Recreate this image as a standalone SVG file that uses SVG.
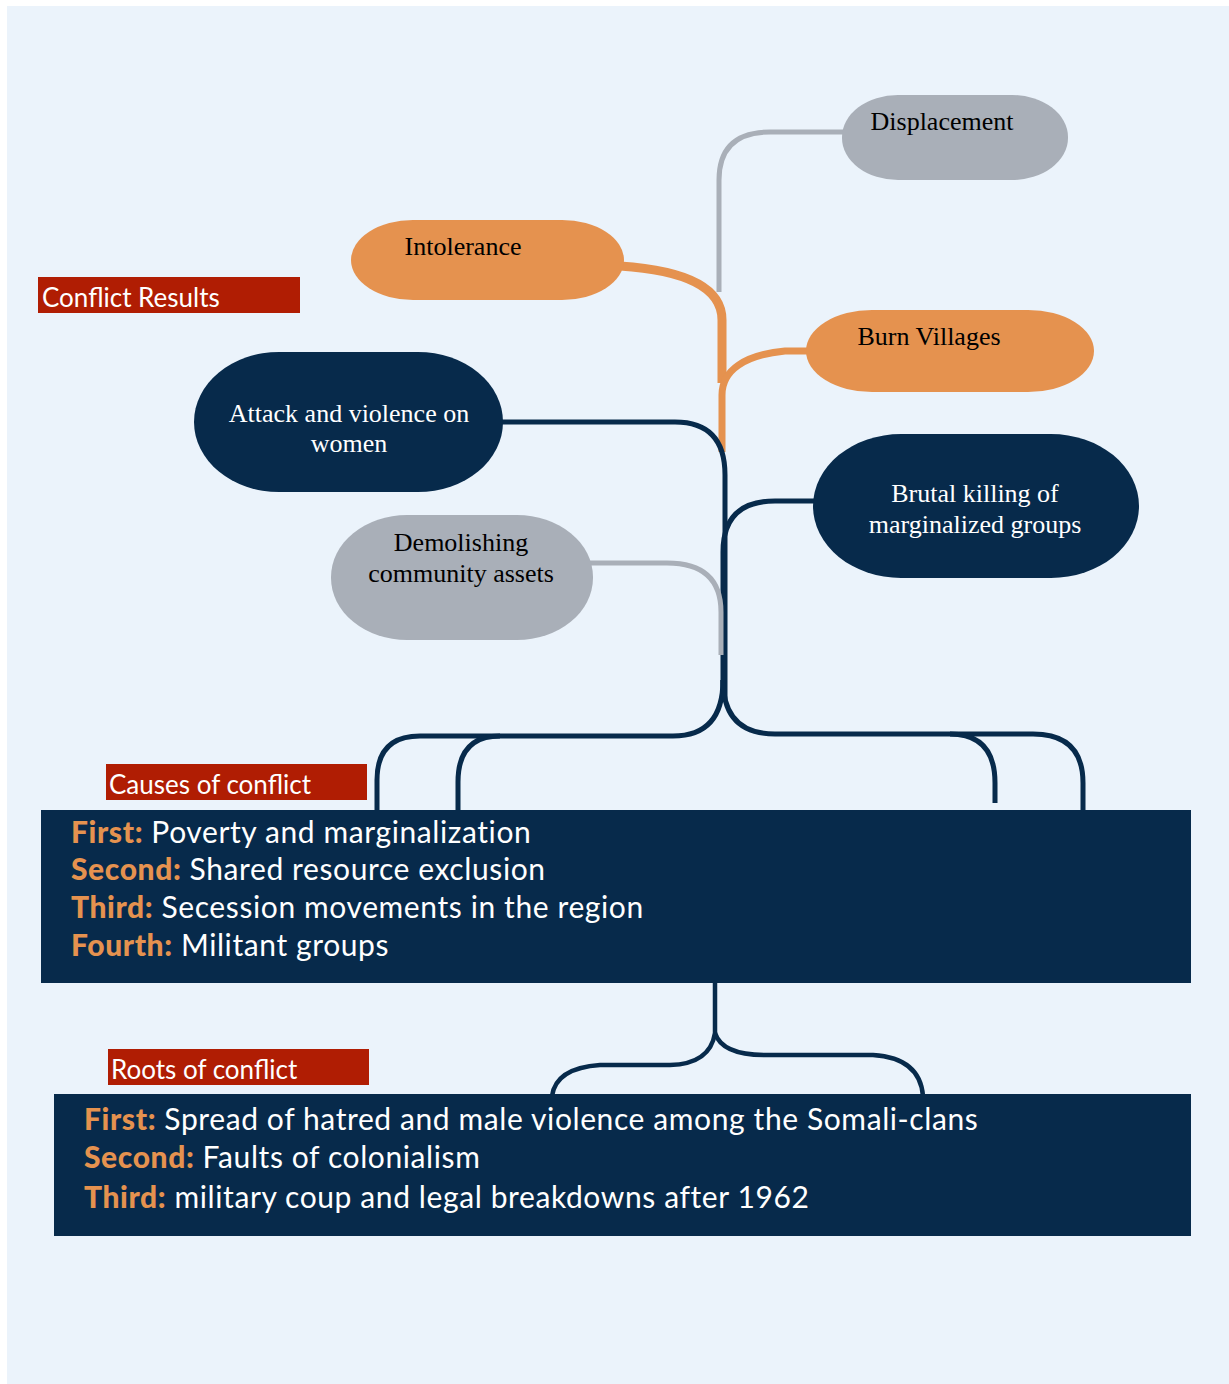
<svg xmlns="http://www.w3.org/2000/svg" width="1229" height="1384" viewBox="0 0 1229 1384">
  <style>
    .bg { fill: #EBF3FB; }
    .navy { fill: #072A4B; }
    .grey { fill: #A9AFB8; }
    .orange { fill: #E5924F; }
    .tag { fill: #B01D03; }
    .lnNavy { fill: none; stroke: #072A4B; stroke-width: 5; }
    .lnGrey { fill: none; stroke: #A9AFB8; stroke-width: 5; }
    .lnOrange { fill: none; stroke: #E5924F; stroke-width: 5; }
    .serif { font-family: "Liberation Serif", "Times New Roman", serif; font-size: 26px; text-anchor: middle; }
    .dark { fill: #000000; }
    .light { fill: #FFFFFF; }
    .sans { font-family: Lato, "Open Sans", "Liberation Sans", sans-serif; }
    .tagText { font-size: 26px; fill: #FFFFFF; }
    .list { font-size: 30px; letter-spacing: 0.6px; fill: #FFFFFF; }
    .key { fill: #E5924F; font-weight: 900; }
  </style>

  <rect class="bg" x="7" y="6" width="1222" height="1378"/>

  <!-- connectors -->
  <g id="connectors">
    <path class="lnGrey" d="M 845 132 H 770 Q 719 132 719 180 V 292"/>
    <path class="lnOrange" d="M 620 266 C 680 270 722 285 722 320 V 383" style="stroke-width:9"/>
    <path class="lnOrange" d="M 808 351 H 785 C 745 355 722 370 722 395 V 452" style="stroke-width:7"/>
    <path class="lnNavy" d="M 500 422 H 675 Q 725 422 725 475 V 700"/>
    <path class="lnNavy" d="M 815 501 H 775 Q 723 501 723 552 V 700"/>
    <path class="lnGrey" d="M 590 563 H 667 Q 721 563 721 612 V 655"/>
    <!-- split above the causes box -->
    <path class="lnNavy" d="M 723 680 Q 723 736 673 736 H 420 Q 377 736 377 780 V 812"/>
    <path class="lnNavy" d="M 500 736 Q 458 736 458 782 V 812"/>
    <path class="lnNavy" d="M 723 680 Q 723 734 775 734 H 1033 Q 1083 734 1083 783 V 812"/>
    <path class="lnNavy" d="M 950 734 Q 995 734 995 783 V 803"/>
    <!-- split above the roots box -->
    <path class="lnNavy" d="M 715 981 V 1033 Q 710 1064 670 1065 H 600 Q 556 1068 552 1096" style="stroke-width:4.5"/>
    <path class="lnNavy" d="M 715 1033 Q 722 1055 765 1055 H 873 Q 920 1058 923 1096" style="stroke-width:4.5"/>
  </g>

  <!-- result nodes -->
  <g id="displacement">
    <rect class="grey" x="842" y="95" width="226" height="85" rx="56" ry="42"/>
    <text class="serif dark" x="942" y="130">Displacement</text>
  </g>
  <g id="intolerance">
    <rect class="orange" x="351" y="220" width="273" height="80" rx="62" ry="40"/>
    <text class="serif dark" x="463" y="255">Intolerance</text>
  </g>
  <g id="burn-villages">
    <rect class="orange" x="806" y="310" width="288" height="82" rx="66" ry="41"/>
    <text class="serif dark" x="929" y="345">Burn Villages</text>
  </g>
  <g id="attack-women">
    <rect class="navy" x="194" y="352" width="309" height="140" rx="85" ry="70"/>
    <text class="serif light" x="349" y="422">Attack and violence on</text>
    <text class="serif light" x="349" y="452">women</text>
  </g>
  <g id="brutal-killing">
    <rect class="navy" x="813" y="434" width="326" height="144" rx="88" ry="72"/>
    <text class="serif light" x="975" y="502">Brutal killing of</text>
    <text class="serif light" x="975" y="533">marginalized groups</text>
  </g>
  <g id="demolishing">
    <rect class="grey" x="331" y="515" width="262" height="125" rx="76" ry="62"/>
    <text class="serif dark" x="461" y="551">Demolishing</text>
    <text class="serif dark" x="461" y="582">community assets</text>
  </g>

  <!-- section tags -->
  <g id="tag-results">
    <rect class="tag" x="38" y="277" width="262" height="36"/>
    <text class="sans tagText" x="42" y="307">Conflict Results</text>
  </g>
  <g id="tag-causes">
    <rect class="tag" x="106" y="764" width="261" height="36"/>
    <text class="sans tagText" x="109" y="794">Causes of conflict</text>
  </g>
  <g id="tag-roots">
    <rect class="tag" x="108" y="1049" width="261" height="36"/>
    <text class="sans tagText" x="111" y="1079">Roots of conflict</text>
  </g>

  <!-- causes box -->
  <g id="causes">
    <rect class="navy" x="41" y="810" width="1150" height="173"/>
    <text class="sans list" x="71" y="843"><tspan class="key">First:</tspan> Poverty and marginalization</text>
    <text class="sans list" x="71" y="880"><tspan class="key">Second:</tspan> Shared resource exclusion</text>
    <text class="sans list" x="71" y="918"><tspan class="key">Third:</tspan> Secession movements in the region</text>
    <text class="sans list" x="71" y="956"><tspan class="key">Fourth:</tspan> Militant groups</text>
  </g>

  <!-- roots box -->
  <g id="roots">
    <rect class="navy" x="54" y="1094" width="1137" height="142"/>
    <text class="sans list" x="84" y="1130"><tspan class="key">First:</tspan> Spread of hatred and male violence among the Somali-clans</text>
    <text class="sans list" x="84" y="1168"><tspan class="key">Second:</tspan> Faults of colonialism</text>
    <text class="sans list" x="84" y="1208"><tspan class="key">Third:</tspan> military coup and legal breakdowns after 1962</text>
  </g>
</svg>
